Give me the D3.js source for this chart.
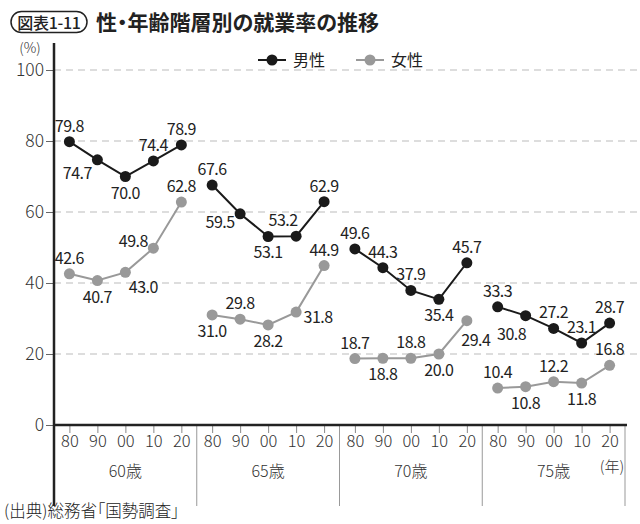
<!DOCTYPE html>
<html><head><meta charset="utf-8">
<script src="https://cdn.jsdelivr.net/npm/d3@7"></script>
<style>
body{margin:0;background:#fff;}
svg{display:block;font-family:"Noto Sans CJK JP","Noto Sans",sans-serif;}
.palt{font-feature-settings:"palt" 1;}
</style></head>
<body>
<script>
const groups = ["60歳","65歳","70歳","75歳"];
const years = ["80","90","00","10","20"];
const yTicks = [0,20,40,60,80,100];
const male = [
  [79.8,74.7,70.0,74.4,78.9],
  [67.6,59.5,53.1,53.2,62.9],
  [49.6,44.3,37.9,35.4,45.7],
  [33.3,30.8,27.2,23.1,28.7]
];
const female = [
  [42.6,40.7,43.0,49.8,62.8],
  [31.0,29.8,28.2,31.8,44.9],
  [18.7,18.8,18.8,20.0,29.4],
  [10.4,10.8,12.2,11.8,16.8]
];
// label placement keywords (layout config)
const malePlace = [
  ["u","dl","d","u","u"],
  ["u","l","d","ul","u"],
  ["u","u","u","d","u"],
  ["u","dl2","u","u","u"]
];
const femalePlace = [
  ["u","d","dr2","l2","u"],
  ["d","u","d","r","u"],
  ["u","d","u","d","dr"],
  ["u","d","u","d","u"]
];

(function(){
const W=640,H=524;
const svg=d3.select("body").append("svg").attr("width",W).attr("height",H);
const pLeft=54, pRight=625, pTop=70, pBottom=425;
const y=d3.scaleLinear().domain([0,100]).range([pBottom,pTop]);
const gx=d3.scaleBand().domain(groups).range([pLeft,pRight]).padding(0);
const px=d3.scalePoint().domain(years).range([0,gx.bandwidth()]).padding(0.55);

// title
svg.append("rect").attr("x",11).attr("y",11.5).attr("width",76).attr("height",21).attr("rx",10.5)
  .attr("fill","none").attr("stroke","#222").attr("stroke-width",1.5);
svg.append("text").attr("x",49).attr("y",28.5).attr("text-anchor","middle")
  .attr("font-size",16).attr("font-weight",500).attr("fill","#222").attr("letter-spacing",-0.3).text("図表1-11");
svg.append("text").attr("class","palt").attr("x",96).attr("y",30).attr("font-size",21).attr("font-weight",700)
  .attr("fill","#222").text("性・年齢階層別の就業率の推移");

// gridlines
svg.append("g").selectAll("line").data(yTicks.filter(d=>d>0)).join("line")
  .attr("x1",pLeft).attr("x2",638).attr("y1",d=>y(d)).attr("y2",d=>y(d))
  .attr("stroke","#bbb").attr("stroke-width",1).attr("stroke-dasharray","7,5");

// y axis
const ya=svg.append("g").attr("transform",`translate(${pLeft},0)`)
  .call(d3.axisLeft(y).tickValues(yTicks).tickSize(8).tickSizeOuter(0));
ya.select(".domain").remove();
ya.selectAll(".tick line").attr("stroke","#666");
ya.selectAll(".tick text").attr("font-size",17.5).attr("fill","#333").attr("font-weight",300)
  .attr("font-family","'Noto Sans CJK JP',sans-serif").attr("x",-10);
svg.append("line").attr("x1",pLeft).attr("x2",pLeft).attr("y1",43).attr("y2",506)
  .attr("stroke","#222").attr("stroke-width",2.5);
svg.append("text").attr("x",30).attr("y",53).attr("text-anchor","middle").attr("font-size",14)
  .attr("fill","#333").attr("font-weight",300).text("(%)");

// x ticks & labels
groups.forEach((g,gi)=>{
  const gg=svg.append("g").attr("transform",`translate(${gx(g)},${pBottom})`);
  gg.call(d3.axisBottom(px).tickSize(8).tickSizeOuter(0));
  gg.select(".domain").remove();
  gg.selectAll(".tick line").attr("stroke","#888");
  gg.selectAll(".tick text").attr("font-size",16.5).attr("fill","#333").attr("font-weight",300)
    .attr("font-family","'Noto Sans CJK JP',sans-serif").attr("y",10);
  svg.append("text").attr("x",gx(g)+gx.bandwidth()/2).attr("y",477).attr("text-anchor","middle")
    .attr("font-size",16).attr("fill","#333").attr("font-weight",300).text(g);
  svg.append("line").attr("x1",gx(g)+gx.bandwidth()).attr("x2",gx(g)+gx.bandwidth())
    .attr("y1",pBottom).attr("y2",506).attr("stroke","#999").attr("stroke-width",1);
});
svg.append("text").attr("x",612).attr("y",472).attr("text-anchor","middle").attr("font-size",15)
  .attr("fill","#333").attr("font-weight",300).text("(年)");
svg.append("line").attr("x1",pLeft).attr("x2",pRight+2).attr("y1",pBottom).attr("y2",pBottom)
  .attr("stroke","#222").attr("stroke-width",2.5);

// series
const off={u:[0,-10],d:[0,22],dl:[-20,19],dl2:[-14,24],l:[-20,14],
  ul:[-13,-10],l2:[-20,-1],r:[22,11],dr:[9,25],dr2:[18,21]};
function drawSeries(data,place,color){
  const line=d3.line().x(d=>d.x).y(d=>d.y);
  data.forEach((vals,gi)=>{
    const pts=vals.map((v,i)=>({x:gx(groups[gi])+px(years[i]),y:y(v),v,p:place[gi][i]}));
    svg.append("path").attr("d",line(pts)).attr("fill","none").attr("stroke",color).attr("stroke-width",2);
    svg.append("g").selectAll("circle").data(pts).join("circle")
      .attr("cx",d=>d.x).attr("cy",d=>d.y).attr("r",5.5).attr("fill",color);
    svg.append("g").selectAll("text").data(pts).join("text")
      .attr("x",d=>d.x+off[d.p][0]).attr("y",d=>d.y+off[d.p][1]).attr("text-anchor","middle")
      .attr("font-size",16).attr("fill","#222").attr("letter-spacing",-0.5).text(d=>d.v.toFixed(1));
  });
}
drawSeries(female,femalePlace,"#999");
drawSeries(male,malePlace,"#1a1a1a");

// legend
const leg=[["男性","#1a1a1a",258],["女性","#999",356]];
leg.forEach(([t,c,x0])=>{
  svg.append("line").attr("x1",x0).attr("x2",x0+28).attr("y1",60).attr("y2",60).attr("stroke",c).attr("stroke-width",2);
  svg.append("circle").attr("cx",x0+14).attr("cy",60).attr("r",5.5).attr("fill",c);
  svg.append("text").attr("x",x0+35).attr("y",66).attr("font-size",16).attr("fill","#222").text(t);
});

// source
svg.append("text").attr("class","palt").attr("x",4).attr("y",517).attr("font-size",16.5).attr("fill","#222").attr("font-weight",300)
  .text("(出典)総務省「国勢調査」");
})();
</script>
</body></html>
